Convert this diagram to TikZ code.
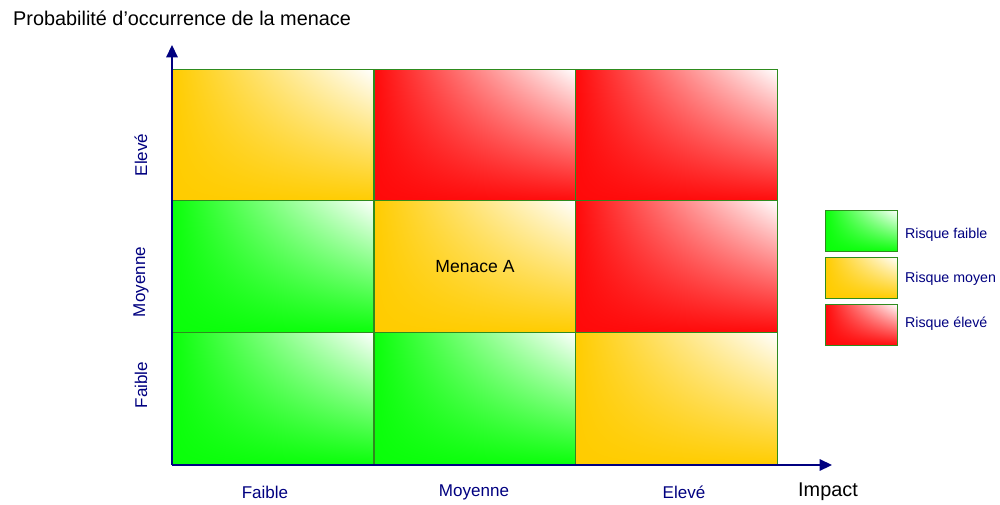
\documentclass[tikz,border=0pt]{standalone}
\usepackage{fontspec}
\setmainfont{Liberation Sans}
\usetikzlibrary{arrows.meta,positioning,shadings}
\definecolor{Navy}{HTML}{000080}
\definecolor{Leaf}{HTML}{2E8B1E}
\definecolor{Vert}{HTML}{0AFF0A}
\definecolor{Jaune}{HTML}{FFCC00}
\definecolor{Rouge}{HTML}{FF0A0A}

\tikzset{
  cell/.style={draw=Leaf,line width=0.8pt,minimum width=4.04cm,minimum height=2.63cm,
    inner sep=0pt,font=\fontsize{10}{12}\selectfont},
  green cell/.style={cell,lower left=Vert,upper left=Vert,lower right=Vert,upper right=white},
  yellow cell/.style={cell,lower left=Jaune,upper left=Jaune,lower right=Jaune,upper right=white},
  red cell/.style={cell,lower left=Rouge,upper left=Rouge,lower right=Rouge,upper right=white},
  key/.style={minimum width=1.44cm,minimum height=0.82cm},
  keytext/.style={right,inner sep=1pt,text=Navy,font=\fontsize{8.1}{10}\selectfont},
  axislabel/.style={text=Navy,font=\fontsize{9.7}{12}\selectfont},
}

\begin{document}
\begin{tikzpicture}[x=0.02cm,y=-0.02cm]
  \useasboundingbox (0,0) rectangle (1000,504);

  % grid of risk levels
  \node[yellow cell] (c13) at (273,135.5) {};
  \node[red cell]    (c23) at (475,135.5) {};
  \node[red cell]    (c33) at (676.5,135.5) {};
  \node[green cell]  (c12) at (273,266.5) {};
  \node[yellow cell] (c22) at (475,266.5) {Menace A};
  \node[red cell]    (c32) at (676.5,266.5) {};
  \node[green cell]  (c11) at (273,398.5) {};
  \node[green cell]  (c21) at (475,398.5) {};
  \node[yellow cell] (c31) at (676.5,398.5) {};

  % axes
  \coordinate (org) at (172,465);
  \coordinate (ytip) at (172,45);
  \coordinate (xtip) at (832,465);
  \draw[Navy,line width=0.9pt,-{Triangle[length=7pt,width=6.5pt]}] (org) -- (ytip);
  \draw[Navy,line width=0.9pt,-{Triangle[length=7pt,width=6.5pt]}] (org) -- (xtip);

  \node[right,font=\fontsize{11.3}{13}\selectfont] (ttl) at (7,18) {Probabilité d’occurrence de la menace};
  \node[right,font=\fontsize{11.3}{13}\selectfont] (imp) at (792,492) {Impact};

  \node[axislabel] (xf) at (265,492) {Faible};
  \node[axislabel] (xm) at (474,492) {Moyenne};
  \node[axislabel] (xe) at (684,492) {Elevé};
  \node[axislabel,rotate=90] (yf) at (141,385) {Faible};
  \node[axislabel,rotate=90] (ym) at (141,282) {Moyenne};
  \node[axislabel,rotate=90] (ye) at (141,155) {Elevé};

  % legend
  \node[green cell,key]  (kf) at (861.5,231) {};
  \node[yellow cell,key] (km) at (861.5,278) {};
  \node[red cell,key]    (ke) at (861.5,325) {};
  \node[keytext] (tf) at (903,235) {Risque faible};
  \node[keytext] (tm) at (903,279) {Risque moyen};
  \node[keytext] (te) at (903,324) {Risque élevé};
\end{tikzpicture}
\end{document}
